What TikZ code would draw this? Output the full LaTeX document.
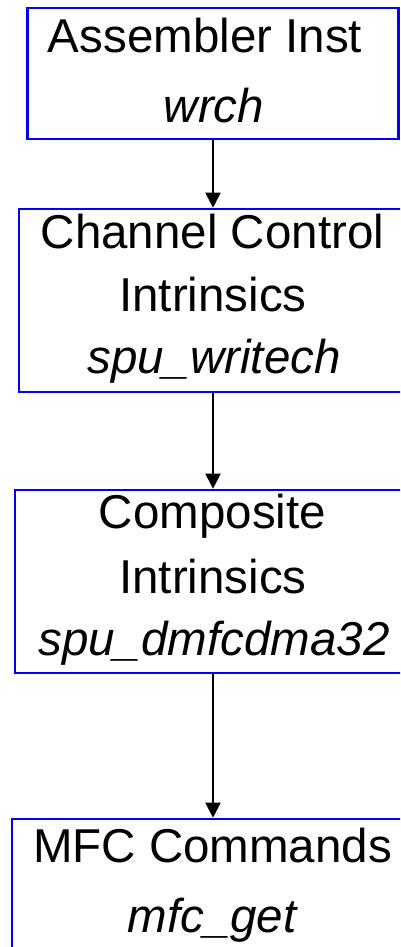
\documentclass[tikz,border=0pt]{standalone}
\usepackage{fontspec}
\setmainfont{Liberation Sans}
\usetikzlibrary{arrows.meta}

\begin{document}
\begin{tikzpicture}[x=1pt, y=-1pt,
  box/.style={draw={rgb,255:red,0;green,0;blue,255}, line width=2.6pt, rectangle, inner sep=0pt},
  lbl/.style={anchor=base, inner sep=0pt, font=\fontsize{47.5}{57}\selectfont},
  code/.style={lbl, font=\fontsize{47.5}{57}\selectfont\itshape},
  arr/.style={draw=black, line width=2pt, -{Triangle[length=15pt, width=15pt]}}]

  % page frame: boxes run past the right edge and are cut off there
  \clip (0,0) rectangle (400,947);
  \fill[white] (0,0) rectangle (400,947);

  % boxes
  \node[box, minimum width=371pt, minimum height=131pt] (asm)  at (213,73.5) {};
  \node[box, minimum width=388pt, minimum height=183pt] (chan) at (213,300.5) {};
  \node[box, minimum width=396pt, minimum height=183pt] (comp) at (213,581.5) {};
  \node[box, minimum width=402pt, minimum height=141pt] (mfc)  at (213,889.5) {};

  % box texts
  \node[lbl]  (asmA)  at (205,53)    {Assembler Inst};
  \node[code] (asmB)  at (214,122)   {wrch};

  \node[lbl]  (chanA) at (212.5,248) {Channel Control};
  \node[lbl]  (chanB) at (213,311)   {Intrinsics};
  \node[code] (chanC) at (214,373)   {spu\_writech};

  \node[lbl]  (compA) at (212.5,528) {Composite};
  \node[lbl]  (compB) at (213,593)   {Intrinsics};
  \node[code] (compC) at (214,655)   {spu\_dmfcdma32};

  \node[lbl]  (mfcA)  at (212.5,862) {MFC Commands};
  \node[code] (mfcB)  at (212,932)   {mfc\_get};

  % connectors
  \draw[arr] (asm.south)  -- (chan.north);
  \draw[arr] (chan.south) -- (comp.north);
  \draw[arr] (comp.south) -- (mfc.north);
\end{tikzpicture}
\end{document}
